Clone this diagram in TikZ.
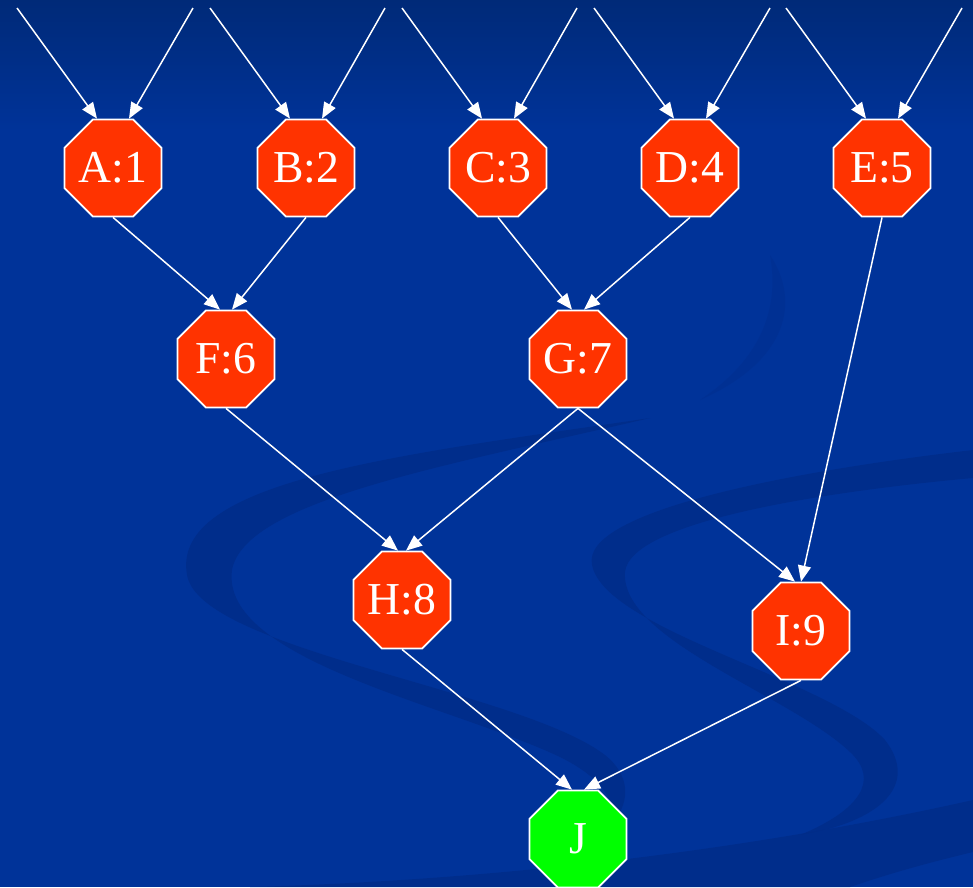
\documentclass[tikz,border=0pt]{standalone}
\usepackage{fontspec}
\setmainfont{Liberation Serif}
\usetikzlibrary{
	arrows.meta,
	shapes.geometric,
	positioning
}
\definecolor{slidebg}{HTML}{003399}
\definecolor{slidetop}{HTML}{002A78}
\definecolor{swirl}{HTML}{002C88}
\definecolor{octred}{HTML}{FF3300}
\definecolor{octgreen}{HTML}{00FF00}

\begin{document}
\begin{tikzpicture}[
			x=0.02cm,
			y=-0.02cm,
			oct/.style={
				regular polygon,
				regular polygon sides=8,
				draw=white,
				line width=1pt,
				fill=octred,
				minimum size=2.1cm,
				inner sep=0pt,
				text=white,
				font=\fontsize{26pt}{30pt}\selectfont
			},
			goal/.style={
				oct,
				fill=octgreen
			},
			arr/.style={
				draw=white,
				line width=0.85pt,
				-{Triangle[length=3.2mm,width=2.6mm]}
			},
			band/.style={
				fill=swirl,
				opacity=0.8
			}
			]
			
			% slide background
			\useasboundingbox (0,0) rectangle (973,887);
			\fill[slidebg] (0,0) rectangle (973,887);
			\shade[top color=slidetop, bottom color=slidebg] (0,0) rectangle (973,130);
			
			% faint swirl of the slide template
			\fill[band] (650,418) .. controls (400,455) and (170,480) .. (187,575)
				.. controls (200,650) and (520,690) .. (605,755)
				.. controls (630,775) and (630,800) .. (615,820)
				.. controls (612,790) and (590,772) .. (560,757)
				.. controls (450,705) and (220,660) .. (232,570)
				.. controls (245,500) and (450,465) .. (650,418) -- cycle;
			\fill[band] (973,450) .. controls (800,470) and (580,510) .. (592,565)
				.. controls (605,630) and (830,680) .. (885,740)
				.. controls (920,785) and (880,822) .. (800,835)
				.. controls (860,810) and (880,780) .. (850,752)
				.. controls (790,695) and (620,640) .. (625,572)
				.. controls (630,522) and (820,492) .. (973,478) -- cycle;
			\fill[band] (973,800) .. controls (750,850) and (500,880) .. (250,887)
				-- (850,887) .. controls (900,870) and (940,860) .. (973,852) -- cycle;
			\fill[band, opacity=0.35] (770,255) .. controls (800,300) and (790,360) .. (700,400)
				.. controls (760,360) and (780,310) .. (770,255) -- cycle;
			
			% nodes
			\node[oct] (A) at (113,168) {A:1};
			\node[oct] (B) at (306,168) {B:2};
			\node[oct] (C) at (498,168) {C:3};
			\node[oct] (D) at (690,168) {D:4};
			\node[oct] (E) at (882,168) {E:5};
			
			\node[oct] (F) at (226,359) {F:6};
			\node[oct] (G) at (578,359) {G:7};
			
			\node[oct] (H) at (402,600) {H:8};
			\node[oct] (I) at (801,631) {I:9};
			
			\node[goal] (J) at (578,839) {J};
			
			% loose ends at the top
			\coordinate (a1) at (17,8);
			\coordinate (a2) at (193,8);
			\coordinate (b1) at (210,8);
			\coordinate (b2) at (385,8);
			\coordinate (c1) at (402,8);
			\coordinate (c2) at (577,8);
			\coordinate (d1) at (594,8);
			\coordinate (d2) at (770,8);
			\coordinate (e1) at (786,8);
			\coordinate (e2) at (962,8);
			
			% edges
			\draw[arr] (a1) -- ([xshift=-0.32cm]A.north);
			\draw[arr] (a2) -- ([xshift=0.32cm]A.north);
			\draw[arr] (b1) -- ([xshift=-0.32cm]B.north);
			\draw[arr] (b2) -- ([xshift=0.32cm]B.north);
			\draw[arr] (c1) -- ([xshift=-0.32cm]C.north);
			\draw[arr] (c2) -- ([xshift=0.32cm]C.north);
			\draw[arr] (d1) -- ([xshift=-0.32cm]D.north);
			\draw[arr] (d2) -- ([xshift=0.32cm]D.north);
			\draw[arr] (e1) -- ([xshift=-0.32cm]E.north);
			\draw[arr] (e2) -- ([xshift=0.32cm]E.north);
			
			\draw[arr] (A.south) -- ([xshift=-0.12cm]F.north);
			\draw[arr] (B.south) -- ([xshift=0.12cm]F.north);
			\draw[arr] (C.south) -- ([xshift=-0.12cm]G.north);
			\draw[arr] (D.south) -- ([xshift=0.12cm]G.north);
			\draw[arr] (E.south) -- (I.north);
			\draw[arr] (F.south) -- ([xshift=-0.08cm]H.north);
			\draw[arr] (G.south) -- ([xshift=0.08cm]H.north);
			\draw[arr] (G.south) -- ([xshift=-0.12cm]I.north);
			\draw[arr] (H.south) -- ([xshift=-0.12cm]J.north);
			\draw[arr] (I.south) -- ([xshift=0.12cm]J.north);
			
		\end{tikzpicture}
\end{document}
